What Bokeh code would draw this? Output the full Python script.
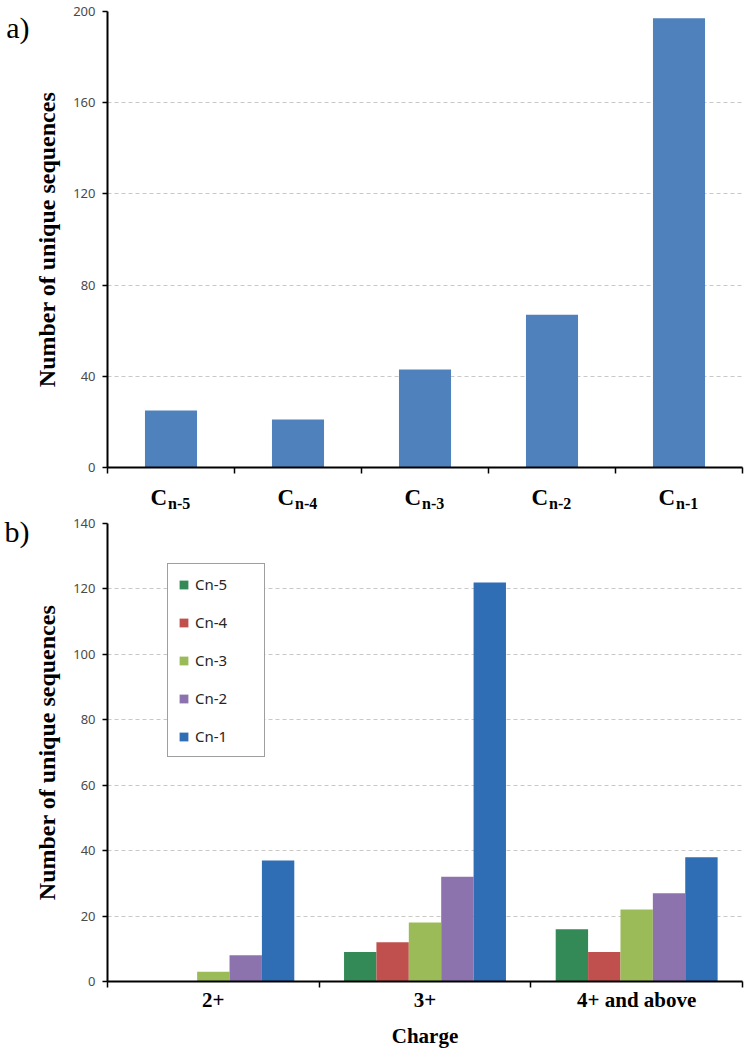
from bokeh.plotting import figure
from bokeh.layouts import column
from bokeh.models import Range1d, FixedTicker, SingleIntervalTicker, Legend, LinearAxis
from bokeh.core.properties import value
from bokeh.embed import file_html
from bokeh.resources import INLINE

# ---- data ----
top_categories = ["Cn-5", "Cn-4", "Cn-3", "Cn-2", "Cn-1"]
top_subscripts = ["n-5", "n-4", "n-3", "n-2", "n-1"]
top_values = [25, 21, 43, 67, 197]

charges = ["2+", "3+", "4+ and above"]
series_names = ["Cn-5", "Cn-4", "Cn-3", "Cn-2", "Cn-1"]
cn5 = [0, 9, 16]
cn4 = [0, 12, 9]
cn3 = [3, 18, 22]
cn2 = [8, 32, 27]
cn1 = [37, 122, 38]
series_values = [cn5, cn4, cn3, cn2, cn1]
series_colors = ["#338a56", "#c0504d", "#9bbb59", "#8c73ae", "#2f6db5"]

SERIF = "Liberation Serif"
SANS = "Noto Sans"
W = 748
BL = 107
BR = 6


def style_common(p, step):
    p.outline_line_color = None
    p.xgrid.grid_line_color = None
    p.ygrid.grid_line_color = "#c8c8c8"
    p.ygrid.grid_line_dash = "4 3"
    p.ygrid.grid_line_width = 1
    p.yaxis.ticker = SingleIntervalTicker(interval=step)
    p.yaxis.axis_line_width = 2
    p.yaxis.axis_line_color = "black"
    p.yaxis.major_tick_out = 5
    p.yaxis.major_tick_in = 0
    p.yaxis.major_tick_line_width = 1.5
    p.yaxis.minor_tick_line_color = None
    p.yaxis.major_label_text_font = SANS
    p.yaxis.major_label_text_font_size = "13px"
    p.yaxis.major_label_text_color = "#4a4a4a"
    p.yaxis.major_label_standoff = 7
    p.yaxis.axis_label = "Number of unique sequences"
    p.yaxis.axis_label_text_font = SERIF
    p.yaxis.axis_label_text_font_size = "24px"
    p.yaxis.axis_label_text_font_style = "bold"
    p.yaxis.axis_label_text_color = "black"
    p.yaxis.axis_label_standoff = 10
    p.xaxis.axis_line_width = 2
    p.xaxis.axis_line_color = "black"
    p.xaxis.major_tick_line_color = None
    p.xaxis.major_tick_out = 0
    p.xaxis.major_tick_in = 0
    p.xaxis.minor_tick_out = 6
    p.xaxis.minor_tick_in = 0
    p.xaxis.minor_tick_line_width = 1.5
    p.xaxis.minor_tick_line_color = "black"


def panel_tag(p, text, at):
    ax = LinearAxis(ticker=FixedTicker(ticks=[at], minor_ticks=[]),
                    major_label_overrides={at: text},
                    axis_line_color=None, major_tick_line_color=None,
                    minor_tick_line_color=None, major_tick_out=0, major_tick_in=0,
                    major_label_standoff=2, major_label_text_font=SERIF,
                    major_label_text_font_size="30px", major_label_text_color="black")
    p.add_layout(ax, "left")


# ---- top chart (a) ----
p1 = figure(width=W, height=475, output_backend="svg", toolbar_location=None,
            x_range=Range1d(0, len(top_categories)), y_range=Range1d(0, 200),
            min_border_left=BL, min_border_right=BR,
            min_border_top=11, min_border_bottom=8)
style_common(p1, 40)
p1.xaxis.ticker = FixedTicker(ticks=[], minor_ticks=list(range(len(top_categories) + 1)))
p1.xaxis.major_label_text_font_size = "0px"

xs1 = [i + 0.5 for i in range(len(top_categories))]
p1.vbar(x=xs1, top=top_values, width=0.41, bottom=0, color="#4f81bd", line_color=None)
panel_tag(p1, "a)", 193)

# ---- category label strip for chart (a) ----
strip = figure(width=W, height=37, output_backend="svg", toolbar_location=None,
               x_range=p1.x_range, y_range=Range1d(0, 37),
               x_axis_type=None, y_axis_type=None,
               min_border_left=BL, min_border_right=BR, min_border_top=0, min_border_bottom=0)
strip.outline_line_color = None
strip.xgrid.grid_line_color = None
strip.ygrid.grid_line_color = None
strip.text(x=xs1, y=[15] * len(xs1), text=["C"] * len(xs1), text_align="right",
           text_baseline="alphabetic", x_offset=-4, text_font=value(SERIF),
           text_font_style="bold", text_font_size="23px", text_color="black")
strip.text(x=xs1, y=[9] * len(xs1), text=top_subscripts, text_align="left",
           text_baseline="alphabetic", x_offset=-3, text_font=value(SERIF),
           text_font_style="bold", text_font_size="16px", text_color="black")

# ---- bottom chart (b) ----
p2 = figure(width=W, height=538, output_backend="svg", toolbar_location=None,
            x_range=Range1d(0, len(charges)), y_range=Range1d(0, 140),
            min_border_left=BL, min_border_right=BR,
            min_border_top=11, min_border_bottom=67)
style_common(p2, 20)
centers = [i + 0.5 for i in range(len(charges))]
p2.xaxis.ticker = FixedTicker(ticks=centers, minor_ticks=list(range(len(charges) + 1)))
p2.xaxis.major_label_overrides = {c: lab for c, lab in zip(centers, charges)}
p2.xaxis.major_label_text_font = SERIF
p2.xaxis.major_label_text_font_style = "bold"
p2.xaxis.major_label_text_font_size = "21px"
p2.xaxis.major_label_text_color = "black"
p2.xaxis.major_label_standoff = 0
p2.xaxis.axis_label = "Charge"
p2.xaxis.axis_label_text_font = SERIF
p2.xaxis.axis_label_text_font_size = "21px"
p2.xaxis.axis_label_text_font_style = "bold"
p2.xaxis.axis_label_text_color = "black"
p2.xaxis.axis_label_standoff = 9

bw = 0.153
items = []
for j, (name, vals, col) in enumerate(zip(series_names, series_values, series_colors)):
    xs = [c + (j - 2) * bw for c in centers]
    r = p2.vbar(x=xs, top=vals, width=bw, bottom=0, color=col, line_color=None)
    items.append((name, [r]))

legend = Legend(items=items, location=(60, 224), orientation="vertical",
                border_line_color="#404040", border_line_width=1.5,
                background_fill_color="white", background_fill_alpha=1.0,
                padding=10, spacing=18, label_height=20, glyph_height=11, glyph_width=11,
                label_standoff=6, label_width=59, margin=0,
                label_text_font=SANS, label_text_font_size="15px", label_text_color="#262626")
p2.add_layout(legend, "center")
panel_tag(p2, "b)", 139)

layout = column(p1, strip, p2, spacing=0)
open("out.html", "w").write(file_html(layout, INLINE))
